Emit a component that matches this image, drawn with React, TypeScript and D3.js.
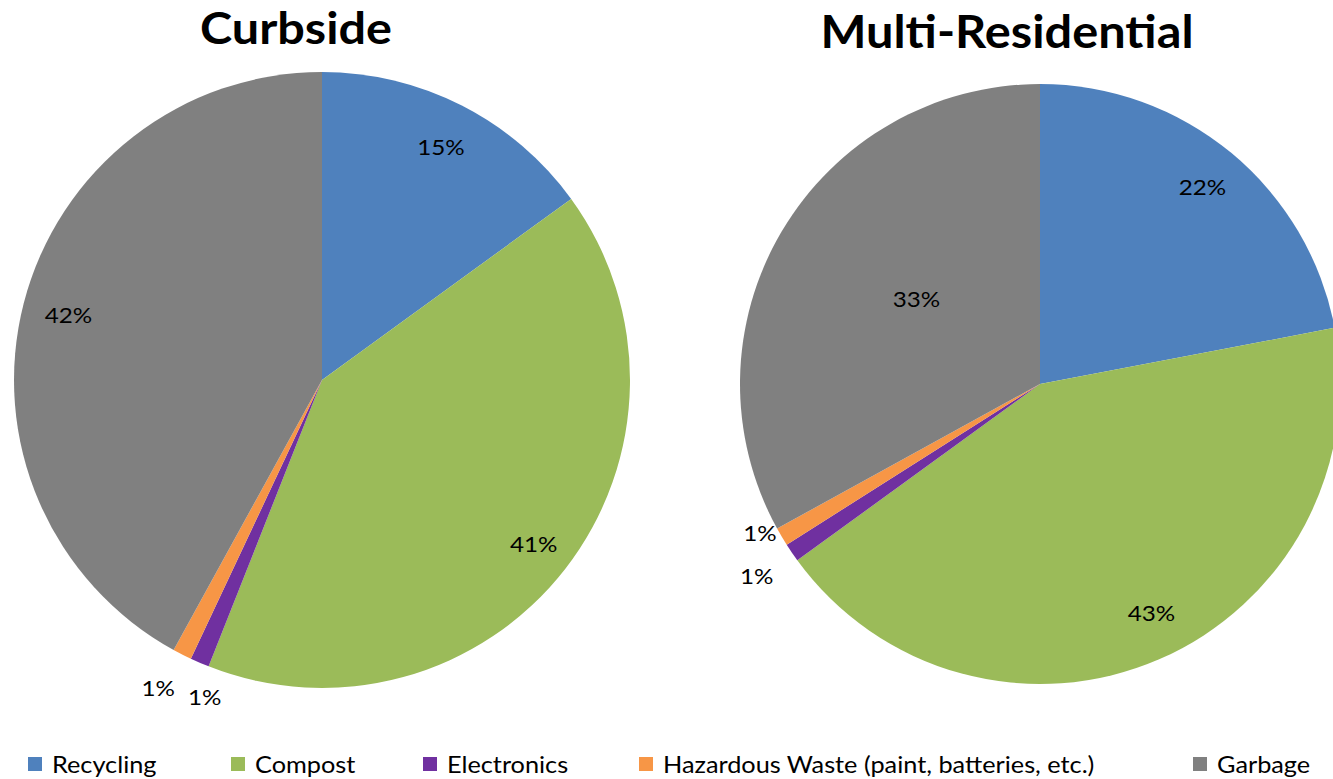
import React from "react";
import * as d3 from "d3";

const categories = ["Recycling", "Compost", "Electronics", "Hazardous Waste (paint, batteries, etc.)", "Garbage"];
const colors = ["#4F81BD", "#9BBB59", "#7030A0", "#F79646", "#808080"];
const curbsideValues = [15, 41, 1, 1, 42];
const multiValues = [22, 43, 1, 1, 33];
// label placement: radius factor and angular shift (degrees) per slice
const curbsideLabelR = [0.85, 0.87, 1.097, 1.133, 0.85];
const curbsideLabelShift = [0, 0, -3.1, 1, 0];
const multiLabelR = [0.85, 0.85, 1.142, 1.057, 0.5];
const multiLabelShift = [0, -2.5, 0, 2.6, 4];
const legendX = [28, 231, 423, 639, 1193];

const W = 1333;
const H = 779;
const FONT = "Lato, 'Open Sans', sans-serif";
const STRETCH = 1.1;

function SText({ x, y, size, children, anchor = "start", weight = "normal", dy = "0" }: any) {
  return (
    <text
      transform={`translate(${x},${y}) scale(${STRETCH},1)`}
      dy={dy}
      textAnchor={anchor}
      fontFamily={FONT}
      fontWeight={weight}
      fontSize={size}
      fill="#000"
    >
      {children}
    </text>
  );
}

function Pie({ values, cx, cy, r, labelR, labelShift, title, titleX, titleY, titleSize, titleLen }: any) {
  const pie = d3.pie<number>().sort(null).value((d) => d);
  const arcs = pie(values);
  const arc = d3.arc<d3.PieArcDatum<number>>().innerRadius(0).outerRadius(r);
  return (
    <g>
      <text
        x={titleX}
        y={titleY}
        textAnchor="middle"
        fontFamily={FONT}
        fontWeight="bold"
        fontSize={titleSize}
        textLength={titleLen}
        lengthAdjust="spacingAndGlyphs"
        fill="#000"
      >
        {title}
      </text>
      <g transform={`translate(${cx},${cy})`}>
        {arcs.map((a, i) => (
          <path key={i} d={arc(a) as string} fill={colors[i]} />
        ))}
        {arcs.map((a, i) => {
          const mid = (a.startAngle + a.endAngle) / 2 + (labelShift[i] * Math.PI) / 180;
          const rr = r * labelR[i];
          const x = Math.sin(mid) * rr;
          const y = -Math.cos(mid) * rr;
          return (
            <SText key={i} x={x} y={y} dy="0.36em" anchor="middle" size={22}>
              {`${values[i]}%`}
            </SText>
          );
        })}
      </g>
    </g>
  );
}

export default function App() {
  return (
    <svg width={W} height={H} style={{ position: "absolute", left: 0, top: 0, background: "#fff" }}>
      <Pie
        values={curbsideValues}
        cx={322}
        cy={380}
        r={308}
        labelR={curbsideLabelR}
        labelShift={curbsideLabelShift}
        title="Curbside"
        titleX={296}
        titleY={44}
        titleSize={43}
        titleLen={192}
      />
      <Pie
        values={multiValues}
        cx={1040}
        cy={384}
        r={300}
        labelR={multiLabelR}
        labelShift={multiLabelShift}
        title="Multi-Residential"
        titleX={1007}
        titleY={48}
        titleSize={45}
        titleLen={373}
      />
      {categories.map((c, i) => (
        <g key={c} transform={`translate(${legendX[i]},0)`}>
          <rect x={0} y={757} width={14} height={14} fill={colors[i]} />
          <SText x={24} y={773} size={23}>
            {c}
          </SText>
        </g>
      ))}
    </svg>
  );
}
